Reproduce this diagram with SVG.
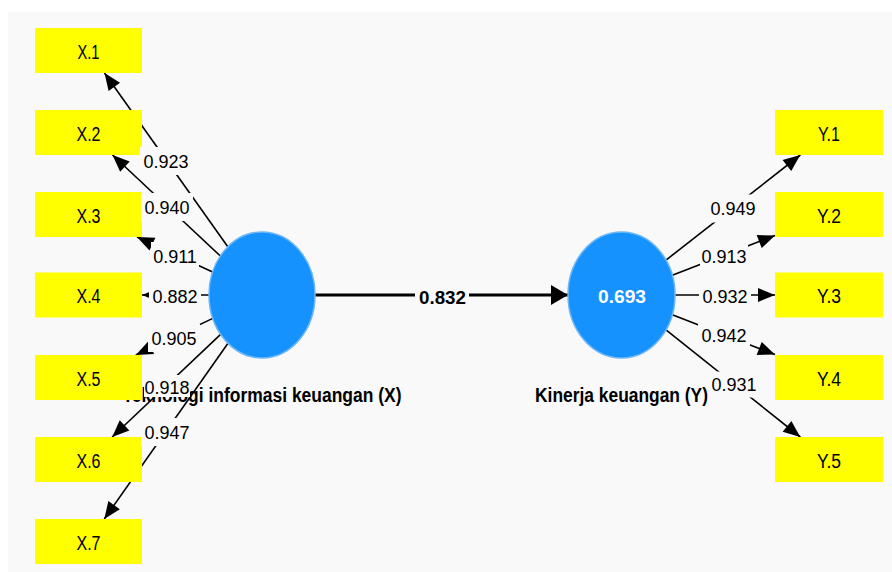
<svg xmlns="http://www.w3.org/2000/svg" width="892" height="572" viewBox="0 0 892 572">
<style>
.box{fill:#ffff00;}
.blab{font-family:"Liberation Sans",Arial,sans-serif;font-size:20px;fill:#000;text-anchor:middle;}
.lv{fill:#1592fe;stroke:#6cb6f6;stroke-width:1.5;}
.name{font-family:"Liberation Sans",Arial,sans-serif;font-size:20px;font-weight:bold;fill:#000;text-anchor:middle;}
.ld{stroke:#000;stroke-width:1.6;fill:none;marker-end:url(#ah);}
.main{stroke:#000;stroke-width:3;fill:none;marker-end:url(#ahm);}
.lbg{fill:#f9f9f9;}
.lt{font-family:"Liberation Sans",Arial,sans-serif;font-size:18px;fill:#000;text-anchor:middle;}
.mt{font-family:"Liberation Sans",Arial,sans-serif;font-size:19px;font-weight:bold;fill:#000;text-anchor:middle;}
</style>
<defs>
<marker id="ah" markerUnits="userSpaceOnUse" markerWidth="17" markerHeight="14" refX="17" refY="7" orient="auto" overflow="visible">
<path d="M0,0 L17,7 L0,14 z" fill="#000"/>
</marker>
<marker id="ahm" markerUnits="userSpaceOnUse" markerWidth="17" markerHeight="20" refX="17" refY="10" orient="auto" overflow="visible">
<path d="M0,0 L17,10 L0,20 z" fill="#000"/>
</marker>
</defs>
<rect x="0" y="0" width="892" height="572" fill="#ffffff"/>
<rect x="8" y="12" width="884" height="560" fill="#f9f9f9"/>

<g id="connectors">
<line class="ld" x1="227.8" y1="246.8" x2="104.5" y2="73"/>
<line class="ld" x1="220.4" y1="256" x2="112.5" y2="155"/>
<line class="ld" x1="212.6" y1="272.1" x2="137" y2="237"/>
<line class="ld" x1="209" y1="295" x2="142" y2="295"/>
<line class="ld" x1="212.8" y1="318.4" x2="135.8" y2="355"/>
<line class="ld" x1="220.6" y1="334.3" x2="112.2" y2="437"/>
<line class="ld" x1="228" y1="343.3" x2="104.3" y2="519"/>
<line class="ld" x1="666" y1="260.1" x2="800.3" y2="155"/>
<line class="ld" x1="672.3" y1="275.3" x2="775" y2="235.4"/>
<line class="ld" x1="675" y1="295" x2="775" y2="295"/>
<line class="ld" x1="672.3" y1="314.7" x2="775" y2="354.6"/>
<line class="ld" x1="666" y1="329.9" x2="800.3" y2="437"/>
<line class="main" x1="315" y1="295" x2="568" y2="295"/>
</g>

<g id="node-X">
<ellipse class="lv" cx="262" cy="295" rx="53" ry="63"/>
<text class="name" x="262" y="402" textLength="279" lengthAdjust="spacingAndGlyphs">Teknologi informasi keuangan (X)</text>
</g>
<g id="node-Y">
<ellipse class="lv" cx="621.5" cy="295" rx="53.5" ry="63"/>
<text x="622" y="303" font-family="Liberation Sans, Arial, sans-serif" font-size="19" font-weight="bold" fill="#ffffff" text-anchor="middle" textLength="48" lengthAdjust="spacingAndGlyphs">0.693</text>
<text class="name" x="621.5" y="402" textLength="173" lengthAdjust="spacingAndGlyphs">Kinerja keuangan (Y)</text>
</g>

<g id="node-X1"><rect class="box" x="35" y="28" width="107" height="45"/><text class="blab" x="88.5" y="58.5" textLength="22" lengthAdjust="spacingAndGlyphs">X.1</text></g>
<g id="node-X2"><rect class="box" x="35" y="110" width="107" height="45"/><text class="blab" x="88.5" y="140.5" textLength="24" lengthAdjust="spacingAndGlyphs">X.2</text></g>
<g id="node-X3"><rect class="box" x="35" y="192" width="107" height="45"/><text class="blab" x="88.5" y="222.5" textLength="24" lengthAdjust="spacingAndGlyphs">X.3</text></g>
<g id="node-X4"><rect class="box" x="35" y="272.5" width="107" height="45"/><text class="blab" x="88.5" y="303" textLength="24" lengthAdjust="spacingAndGlyphs">X.4</text></g>
<g id="node-X5"><rect class="box" x="35" y="355" width="107" height="45"/><text class="blab" x="88.5" y="385.5" textLength="24" lengthAdjust="spacingAndGlyphs">X.5</text></g>
<g id="node-X6"><rect class="box" x="35" y="437" width="107" height="45"/><text class="blab" x="88.5" y="467.5" textLength="24" lengthAdjust="spacingAndGlyphs">X.6</text></g>
<g id="node-X7"><rect class="box" x="35" y="519" width="107" height="45"/><text class="blab" x="88.5" y="549.5" textLength="24" lengthAdjust="spacingAndGlyphs">X.7</text></g>

<g id="node-Y1"><rect class="box" x="775" y="110" width="108" height="45"/><text class="blab" x="829" y="140.5" textLength="22" lengthAdjust="spacingAndGlyphs">Y.1</text></g>
<g id="node-Y2"><rect class="box" x="775" y="192" width="108" height="45"/><text class="blab" x="829" y="222.5" textLength="24" lengthAdjust="spacingAndGlyphs">Y.2</text></g>
<g id="node-Y3"><rect class="box" x="775" y="272.5" width="108" height="45"/><text class="blab" x="829" y="303" textLength="24" lengthAdjust="spacingAndGlyphs">Y.3</text></g>
<g id="node-Y4"><rect class="box" x="775" y="355" width="108" height="45"/><text class="blab" x="829" y="385.5" textLength="24" lengthAdjust="spacingAndGlyphs">Y.4</text></g>
<g id="node-Y5"><rect class="box" x="775" y="437" width="108" height="45"/><text class="blab" x="829" y="467.5" textLength="24" lengthAdjust="spacingAndGlyphs">Y.5</text></g>

<g id="connector-labels">
<rect class="lbg" x="140" y="147" width="52" height="28"/><text class="lt" x="166" y="167.5">0.923</text>
<rect class="lbg" x="141" y="193" width="52" height="28"/><text class="lt" x="167" y="213.5">0.940</text>
<rect class="lbg" x="151" y="242" width="48" height="28"/><text class="lt" x="175" y="262.5">0.911</text>
<rect class="lbg" x="149" y="282" width="52" height="28"/><text class="lt" x="175" y="302.5">0.882</text>
<rect class="lbg" x="148" y="324" width="52" height="28"/><text class="lt" x="174" y="344.5">0.905</text>
<rect class="lbg" x="144" y="375" width="46" height="22"/><text class="lt" x="167" y="393.5">0.918</text>
<rect class="lbg" x="141" y="418" width="52" height="28"/><text class="lt" x="167" y="438.5">0.947</text>
<rect class="lbg" x="707" y="194.5" width="52" height="28"/><text class="lt" x="733" y="215">0.949</text>
<rect class="lbg" x="700" y="242.5" width="48" height="28"/><text class="lt" x="724" y="263">0.913</text>
<rect class="lbg" x="699" y="282" width="52" height="28"/><text class="lt" x="725" y="302.5">0.932</text>
<rect class="lbg" x="698" y="321.5" width="52" height="28"/><text class="lt" x="724" y="342">0.942</text>
<rect class="lbg" x="712" y="371.5" width="43" height="26"/><text class="lt" x="734" y="391">0.931</text>
<rect class="lbg" x="415" y="283" width="54" height="26"/><text class="mt" x="442.5" y="303.5" textLength="47" lengthAdjust="spacingAndGlyphs">0.832</text>
</g>
</svg>
